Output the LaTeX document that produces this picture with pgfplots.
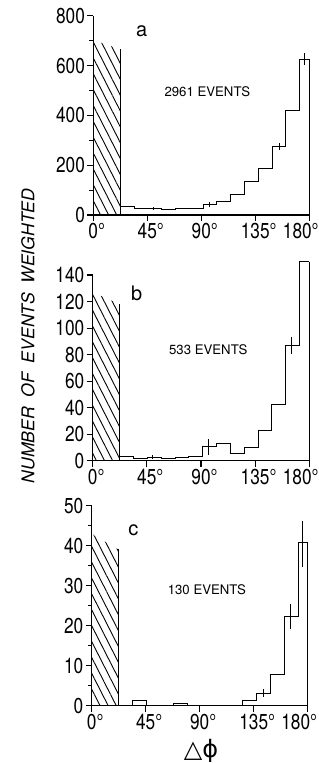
\documentclass[border=0pt]{standalone}
\usepackage{fontspec}
\setmainfont{TeX Gyre Heros}
\newfontfamily\tickfont[FakeStretch=0.8]{TeX Gyre Heros}
\newfontfamily\dejavu{DejaVu Sans}
\usepackage{pgfplots}
\pgfplotsset{compat=1.18}
\usetikzlibrary{patterns.meta}

\pgfplotsset{
  panel/.style={
    scale only axis, axis lines=left, axis line style={-, line width=0.55pt},
    xmin=0, xmax=180, ymin=0, clip=false, width=108pt,
    xtick={0,45,90,135,180},
    xticklabels={0\rlap{°},45\rlap{°},90\rlap{°},135\rlap{°},180\rlap{°}\hspace*{12pt}},
    tick align=outside, tick style={black, line width=0.55pt},
    major tick length=3pt, minor tick length=2pt,
    ticklabel style={font=\tickfont\fontsize{10.8}{12}\selectfont, inner sep=1pt},
    /pgf/number format/assume math mode=true,
    /pgf/number format/1000 sep={},
  },
  hist/.style={black, line width=0.5pt, const plot, mark=none},
  vline/.style={black, line width=0.5pt, mark=none},
  hatch/.style={draw=none, mark=none, pattern={Lines[angle=-63, distance=3.6pt, line width=0.45pt]}},
  eb/.style={draw=none, mark=none, forget plot,
    error bars/.cd, y dir=both, y explicit, error mark=none,
    error bar style={black, line width=0.5pt}},
}

\begin{document}
\begin{tikzpicture}
\path[use as bounding box] (0,0) rectangle (159pt,-381.5pt);

% ---------------- panel a ----------------
\begin{axis}[panel, at={(46.65pt,-107.5pt)}, anchor=south west,
  height=99.65pt, ymax=800, ytick={0,200,400,600,800}, minor ytick={100,300,500,700}]
\addplot[hatch] coordinates {(0,702) (22.5,665)} \closedcycle;
\addplot[vline] coordinates {(22.5,0) (22.5,665)};
\addplot[hist] coordinates {(22.5,36) (34,26) (45.5,27) (57,23) (68.5,27) (80,28) (91.5,43) (103,53) (114.5,83) (126,134) (137.5,187) (149,274) (160.5,421) (172,625) (180,625)};
\addplot[vline] coordinates {(180,625) (180,0)};
\addplot[eb] coordinates {(50,27) +- (0,6) (97,43) +- (0,10) (155,274) +- (0,15) (176,625) +- (0,24)};
\node[anchor=base, font=\fontsize{10}{12}\selectfont] at (axis cs:40.3,718) {a};
\node[font=\fontsize{6.6}{8}\selectfont] at (axis cs:95,495) {2961 EVENTS};
\end{axis}

% ---------------- panel b ----------------
\begin{axis}[panel, at={(46.35pt,-230.35pt)}, anchor=south west, width=108.3pt,
  height=92.85pt, ymax=140, ytick={0,20,...,140}]
\addplot[hatch] coordinates {(0,127) (22.5,118)} \closedcycle;
\addplot[vline] coordinates {(22.5,0) (22.5,118)};
\addplot[hist] coordinates {(22.5,3) (34,1.8) (45.5,2.5) (57,1.5) (68.5,2.3) (80,3) (91.5,10.5) (103,13) (114.5,5.3) (126,10) (137.5,22.4) (149,42) (160.5,87) (172,150) (180,150)};
\addplot[vline] coordinates {(180,150) (180,0)};
\addplot[eb] coordinates {(50,2.5) +- (0,1.5) (96,10.5) +- (0,6) (165,87) +- (0,6.5)};
\node[anchor=base, font=\fontsize{10}{12}\selectfont] at (axis cs:36.5,121) {b};
\node[font=\fontsize{6.6}{8}\selectfont] at (axis cs:96,84) {533 EVENTS};
\end{axis}

% ---------------- panel c ----------------
\begin{axis}[panel, at={(45.85pt,-352.85pt)}, anchor=south west,
  height=100pt, ymax=50, ytick={0,10,...,50}, minor ytick={5,15,...,45}]
\addplot[hatch] coordinates {(0,43) (22.5,39)} \closedcycle;
\addplot[vline] coordinates {(22.5,0) (22.5,39.2)};
\addplot[hist] coordinates {(22.5,0) (34,1.2) (45.5,0) (57,0) (68.5,0.6) (80,0) (91.5,0) (103,0) (114.5,0) (126,1.4) (137.5,3.1) (149,7.7) (160.5,22.3) (172,40.8) (180,40.8)};
\addplot[vline] coordinates {(180,40.8) (180,0)};
\addplot[eb] coordinates {(143,3.1) +- (0,1) (166,22.3) +- (0,3.2) (176,40.4) +- (0,5.8)};
\node[anchor=base, font=\fontsize{10}{12}\selectfont] at (axis cs:34.7,42.5) {c};
\node[font=\fontsize{6.6}{8}\selectfont] at (axis cs:96,29) {130 EVENTS};
\end{axis}

% ---------------- labels ----------------
\node[rotate=90, font=\itshape\fontsize{8.8}{10}\selectfont] at (14pt,-168pt) {NUMBER\ \ OF\ \ EVENTS\ \ WEIGHTED};
\node[font=\dejavu\fontsize{12}{14}\selectfont, inner sep=0pt] at (100.5pt,-375.5pt) {△ϕ};
\end{tikzpicture}
\end{document}
